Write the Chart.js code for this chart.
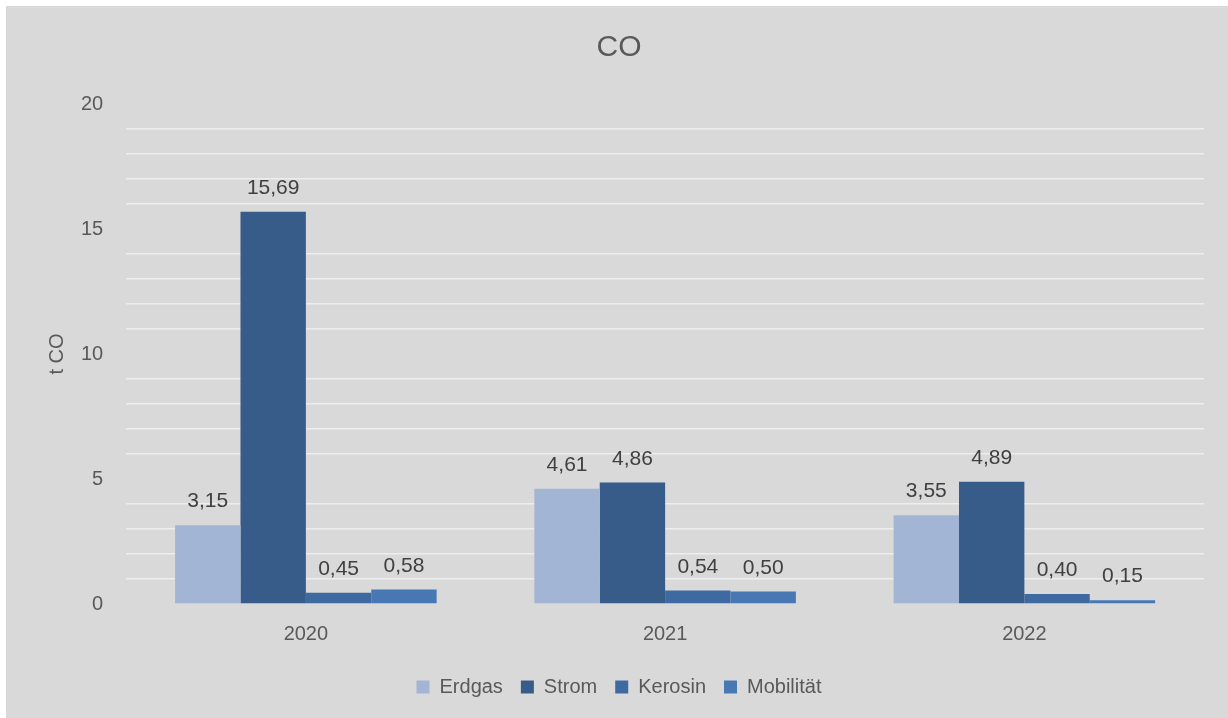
<!DOCTYPE html>
<html>
<head>
<meta charset="utf-8">
<script src="https://cdn.jsdelivr.net/npm/chart.js@4/dist/chart.umd.min.js"></script>
<style>
  body { margin: 0; background: #ffffff; }
  #wrap { position: absolute; left: 6px; top: 6px; width: 1222px; height: 712px; background: #d9d9d9; }
</style>
</head>
<body>
<div id="wrap"><canvas id="coChart"></canvas></div>
<script>
const years = ['2020', '2021', '2022'];
const erdgas = [3.15, 4.61, 3.55];
const strom = [15.69, 4.86, 4.89];
const kerosin = [0.45, 0.54, 0.40];
const mobilitaet = [0.58, 0.50, 0.15];

const fontFamily = '"Liberation Sans", Arial, sans-serif';

// value labels above each bar, German decimal comma
const barLabels = {
    id: 'barLabels',
    afterDatasetsDraw(chart) {
        const ctx = chart.ctx;
        ctx.save();
        ctx.font = '21px ' + fontFamily;
        ctx.fillStyle = '#404040';
        ctx.textAlign = 'center';
        ctx.textBaseline = 'alphabetic';
        chart.data.datasets.forEach((ds, i) => {
            chart.getDatasetMeta(i).data.forEach((bar, j) => {
                const txt = ds.data[j].toFixed(2).replace('.', ',');
                ctx.fillText(txt, bar.x, bar.y - 18);
            });
        });
        ctx.restore();
    }
};

const chartCtx = document.getElementById('coChart').getContext('2d');
const coChart = new Chart(chartCtx, {
    type: 'bar',
    data: {
        labels: years,
        datasets: [
            { label: 'Erdgas', data: erdgas, backgroundColor: '#a2b5d5' },
            { label: 'Strom', data: strom, backgroundColor: '#375c89' },
            { label: 'Kerosin', data: kerosin, backgroundColor: '#3f6aa1' },
            { label: 'Mobilität', data: mobilitaet, backgroundColor: '#4778b4' }
        ]
    },
    options: {
        responsive: true,
        maintainAspectRatio: false,
        animation: false,
        datasets: {
            bar: { barPercentage: 1, categoryPercentage: 0.728 }
        },
        layout: { padding: { left: 28, right: 24, top: 0, bottom: 11 } },
        plugins: {
            title: {
                display: true,
                text: 'CO',
                color: '#595959',
                font: { family: fontFamily, size: 30, weight: 'normal' },
                padding: { top: 24, bottom: 38 }
            },
            legend: {
                position: 'bottom',
                labels: {
                    color: '#595959',
                    font: { family: fontFamily, size: 20 },
                    boxWidth: 13,
                    boxHeight: 13,
                    padding: 18
                }
            },
            tooltip: { enabled: false }
        },
        scales: {
            x: {
                grid: { display: false, drawTicks: false },
                border: { display: false },
                ticks: {
                    color: '#595959',
                    font: { family: fontFamily, size: 20 },
                    padding: 18
                },
                afterFit: (scale) => { scale.height -= 5; }
            },
            y: {
                min: 0,
                max: 20,
                border: { display: false },
                grid: {
                    drawTicks: false,
                    lineWidth: 1.5,
                    color: (c) => (c.tick && c.tick.value % 5 === 0) ? 'rgba(0,0,0,0)' : '#eeeeee'
                },
                ticks: {
                    stepSize: 1,
                    autoSkip: false,
                    color: '#595959',
                    font: { family: fontFamily, size: 20 },
                    padding: 23,
                    callback: (v) => (v % 5 === 0 ? String(v) : '')
                },
                title: {
                    display: true,
                    text: 't CO',
                    color: '#595959',
                    font: { family: fontFamily, size: 20 },
                    padding: { top: 11, bottom: -11 }
                }
            }
        }
    },
    plugins: [barLabels]
});
</script>
</body>
</html>
